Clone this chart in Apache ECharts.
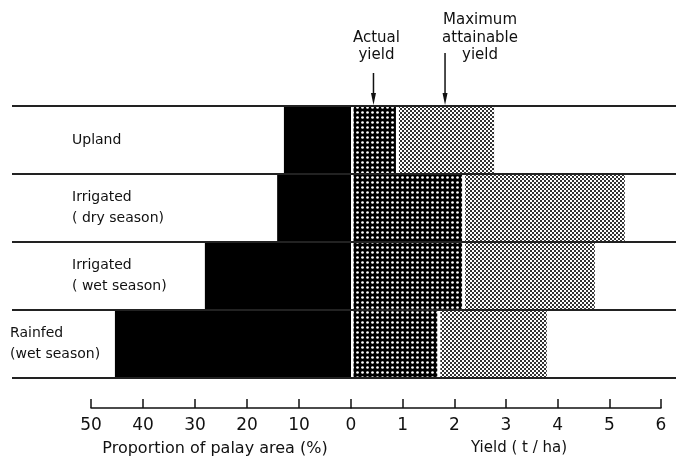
<!DOCTYPE html>
<html>
<head>
<meta charset="utf-8">
<script src="https://cdn.jsdelivr.net/npm/echarts@6/dist/echarts.min.js"></script>
<style>html,body{margin:0;padding:0;background:#fff;}#c{width:676px;height:456px;}</style>
</head>
<body>
<div id="c"></div>
<script>
// ---- data ----
const categories = ['Upland', 'Irrigated\n( dry season)', 'Irrigated\n( wet season)', 'Rainfed\n(wet season)'];
const areaShare = [12.9, 14.2, 28.1, 45.4];        // % of palay area
const actualYield = [0.87, 2.15, 2.15, 1.67];      // t/ha
const maxYield = [2.77, 5.3, 4.72, 3.79];          // t/ha
const areaTicks = { min: 0, max: 50, interval: 10 };
const yieldTicks = { min: 0, max: 6, interval: 1 };

const gapYield = maxYield.map((m, i) => +(m - actualYield[i]).toFixed(3));

// ---- patterns ----
function darkPattern() {
  const c = document.createElement('canvas'); c.width = 5; c.height = 5;
  const g = c.getContext('2d');
  g.fillStyle = '#000'; g.fillRect(0, 0, 5, 5);
  g.fillStyle = '#fff'; g.beginPath(); g.arc(2.5, 2.5, 1.35, 0, Math.PI * 2); g.fill();
  return c;
}
function lightPattern() {
  const c = document.createElement('canvas'); c.width = 4; c.height = 4;
  const g = c.getContext('2d');
  g.fillStyle = '#fff'; g.fillRect(0, 0, 4, 4);
  g.fillStyle = '#333'; g.fillRect(0, 0, 2, 2); g.fillRect(2, 2, 2, 2);
  return c;
}

const FONT = 'DejaVu Sans';
const chart = echarts.init(document.getElementById('c'), null, { renderer: 'canvas' });

const gridTop = 106, gridH = 272;
const option = {
  backgroundColor: '#fff',
  animation: false,
  textStyle: { fontFamily: FONT, color: '#111' },
  grid: [
    { left: 91, width: 260, top: gridTop, height: gridH, outerBoundsMode: 'none', containLabel: false },
    { left: 351, width: 310, top: gridTop, height: gridH, outerBoundsMode: 'none', containLabel: false },
    { left: 12, right: 0, top: gridTop, height: gridH, outerBoundsMode: 'none', containLabel: false }
  ],
  xAxis: [
    {
      type: 'value', gridIndex: 0, inverse: true,
      min: areaTicks.min, max: areaTicks.max, interval: areaTicks.interval,
      position: 'bottom', offset: 30,
      axisLine: { show: true, lineStyle: { color: '#111', width: 1.5 } },
      axisTick: { show: true, inside: true, length: 9, lineStyle: { color: '#111', width: 1.5 } },
      axisLabel: { margin: 9, fontSize: 17, color: '#111', fontFamily: FONT },
      splitLine: { show: false },
      name: 'Proportion of palay area (%)', nameLocation: 'middle', nameGap: 33,
      nameTextStyle: { fontSize: 16, color: '#111', fontFamily: FONT, padding: [0, 12, 0, 0] }
    },
    {
      type: 'value', gridIndex: 1,
      min: yieldTicks.min, max: yieldTicks.max, interval: yieldTicks.interval,
      position: 'bottom', offset: 30,
      axisLine: { show: true, lineStyle: { color: '#111', width: 1.5 } },
      axisTick: { show: true, inside: true, length: 9, lineStyle: { color: '#111', width: 1.5 } },
      axisLabel: { margin: 9, fontSize: 17, color: '#111', fontFamily: FONT, showMinLabel: false },
      splitLine: { show: false },
      name: 'Yield ( t / ha)', nameLocation: 'middle', nameGap: 33,
      nameTextStyle: { fontSize: 15, color: '#111', fontFamily: FONT, padding: [0, 0, 0, 26] }
    },
    { type: 'value', gridIndex: 2, show: false, min: 0, max: 1 }
  ],
  yAxis: [
    { type: 'category', gridIndex: 0, data: categories, inverse: true, show: false },
    { type: 'category', gridIndex: 1, data: categories, inverse: true, show: false },
    {
      type: 'category', gridIndex: 2, data: categories, inverse: true, z: 10,
      axisLine: { show: false }, axisTick: { show: false },
      splitLine: { show: true, lineStyle: { color: '#222', width: 2 } },
      axisLabel: {
        inside: true, margin: -2, fontSize: 14, lineHeight: 21, color: '#111', fontFamily: FONT,
        formatter: function (v, i) {
          const style = areaShare[i] > 40 ? 'b' : 'a';
          return v.split('\n').map(s => '{' + style + '|' + s + '}').join('\n');
        },
        rich: {
          a: { fontSize: 14, lineHeight: 21, padding: [0, 0, 0, 62], color: '#111', fontFamily: FONT },
          b: { fontSize: 14, lineHeight: 21, padding: [0, 0, 0, 0], color: '#111', fontFamily: FONT }
        }
      }
    }
  ],
  series: [
    {
      type: 'bar', xAxisIndex: 0, yAxisIndex: 0, data: areaShare,
      barCategoryGap: '0%', barGap: '0%',
      itemStyle: { color: '#000', shadowColor: '#fff', shadowBlur: 0, shadowOffsetX: 2.5, shadowOffsetY: 0 },
      z: 4
    },
    {
      type: 'bar', xAxisIndex: 1, yAxisIndex: 1, stack: 'y', data: actualYield,
      barCategoryGap: '0%', barGap: '0%',
      itemStyle: { color: { image: darkPattern(), repeat: 'repeat' }, shadowColor: '#fff', shadowBlur: 0, shadowOffsetX: 3, shadowOffsetY: 0 },
      z: 3
    },
    {
      type: 'bar', xAxisIndex: 1, yAxisIndex: 1, stack: 'y', data: gapYield,
      barCategoryGap: '0%', barGap: '0%',
      itemStyle: { color: { image: lightPattern(), repeat: 'repeat' } },
      z: 2
    }
  ]
};
chart.setOption(option);

// ---- annotation arrows pointing at the Upland bars ----
const p0 = chart.convertToPixel({ xAxisIndex: 1, yAxisIndex: 1 }, [actualYield[0] / 2, categories[0]]);
const p1 = chart.convertToPixel({ xAxisIndex: 1, yAxisIndex: 1 }, [0, categories[1]]);
const band = p1[1] - p0[1];
const topY = p0[1] - band / 2 - 1;
const xA = p0[0];
const xM = chart.convertToPixel({ xAxisIndex: 1, yAxisIndex: 1 }, [(actualYield[0] + maxYield[0]) / 2, categories[0]])[0];

function arrow(x, y0) {
  return [
    { type: 'line', shape: { x1: x, y1: y0, x2: x, y2: topY - 8 }, style: { stroke: '#111', lineWidth: 1.5 } },
    { type: 'polygon', shape: { points: [[x - 2.5, topY - 12], [x + 2.5, topY - 12], [x, topY]] }, style: { fill: '#111' } }
  ];
}
chart.setOption({
  graphic: [
    ...arrow(xA, 73),
    ...arrow(xM, 53),
    { type: 'text', x: xA + 3, y: 47, style: { text: 'Actual\nyield', align: 'center', verticalAlign: 'middle', fontSize: 15, lineHeight: 17, fontFamily: FONT, fill: '#111' } },
    { type: 'text', x: xM + 35, y: 38, style: { text: 'Maximum\nattainable\nyield', align: 'center', verticalAlign: 'middle', fontSize: 15, lineHeight: 17.5, fontFamily: FONT, fill: '#111' } }
  ]
});
</script>
</body>
</html>
